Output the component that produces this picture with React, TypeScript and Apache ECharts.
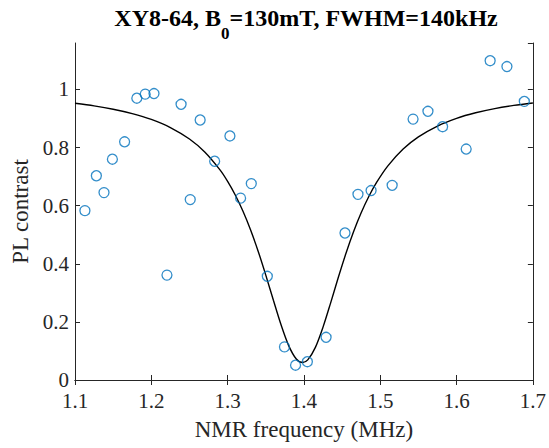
import React, { useEffect, useRef } from "react";
import * as echarts from "echarts";

const freqs = [1.113, 1.128, 1.138, 1.149, 1.165, 1.181, 1.192, 1.2035, 1.2205, 1.239, 1.251, 1.264, 1.283, 1.303, 1.317, 1.331, 1.352, 1.3745, 1.389, 1.4045, 1.429, 1.4538, 1.4708, 1.488, 1.5156, 1.543, 1.5625, 1.5817, 1.6126, 1.644, 1.666, 1.6888];
const contrast = [0.583, 0.703, 0.645, 0.76, 0.82, 0.97, 0.984, 0.986, 0.361, 0.949, 0.621, 0.895, 0.753, 0.84, 0.626, 0.676, 0.357, 0.114, 0.051, 0.063, 0.147, 0.506, 0.639, 0.652, 0.67, 0.898, 0.925, 0.872, 0.795, 1.099, 1.079, 0.959];

const fitFreq = [1.1, 1.125, 1.15, 1.175, 1.2, 1.225, 1.25, 1.27, 1.29, 1.3, 1.31, 1.32, 1.33, 1.34, 1.35, 1.36, 1.37, 1.38, 1.39, 1.398, 1.405, 1.415, 1.425, 1.435, 1.445, 1.455, 1.465, 1.475, 1.485, 1.495, 1.51, 1.53, 1.55, 1.575, 1.6, 1.625, 1.65, 1.675, 1.7];
const fitContrast = [0.9524, 0.9435, 0.9321, 0.9171, 0.897, 0.8691, 0.8295, 0.7848, 0.7231, 0.6835, 0.6367, 0.5816, 0.5172, 0.4433, 0.3611, 0.2743, 0.1899, 0.1184, 0.0721, 0.06, 0.0693, 0.1124, 0.182, 0.2656, 0.3526, 0.4354, 0.5102, 0.5755, 0.6316, 0.6792, 0.7371, 0.7949, 0.8368, 0.8742, 0.9006, 0.9198, 0.9342, 0.9451, 0.9536];

const xTicks = { min: 1.1, max: 1.7, interval: 0.1 };
const yTicks = { min: 0, max: 1.16, interval: 0.2 };

const FONT = "'Liberation Serif', 'Times New Roman', serif";
const AXIS_COLOR = "#262626";

export default function App() {
  const ref = useRef<HTMLDivElement>(null);
  useEffect(() => {
    if (!ref.current) return;
    const chart = echarts.init(ref.current, null, { renderer: "svg" });
    const axisLine = { show: true, lineStyle: { color: AXIS_COLOR, width: 1 } };
    const tick = { show: true, inside: true, length: 5, lineStyle: { color: AXIS_COLOR, width: 1 } };
    chart.setOption({
      animation: false,
      backgroundColor: "#ffffff",
      textStyle: { fontFamily: FONT },
      grid: { left: 75, right: 14.5, top: 43, bottom: 68, containLabel: false },
      graphic: [
        {
          type: "text",
          x: 306,
          y: 18,
          style: {
            text: "{b|XY8-64, B}{s|0}{b|=130mT, FWHM=140kHz}",
            textAlign: "center",
            textVerticalAlign: "middle",
            rich: {
              b: { fontFamily: FONT, fontWeight: "bold", fontSize: 24, fill: "#000" },
              s: { fontFamily: FONT, fontWeight: "bold", fontSize: 17, fill: "#000", padding: [30, 0, 0, 0] },
            },
          },
        },
      ],
      xAxis: [
        {
          type: "value",
          min: xTicks.min,
          max: xTicks.max,
          interval: xTicks.interval,
          position: "bottom",
          name: "NMR frequency (MHz)",
          nameLocation: "middle",
          nameGap: 38,
          nameTextStyle: { fontFamily: FONT, fontSize: 23, color: "#262626" },
          axisLine,
          axisTick: tick,
          splitLine: { show: false },
          axisLabel: {
            fontFamily: FONT,
            fontSize: 21,
            color: "#262626",
            margin: 10,
            formatter: (v: number) => v.toFixed(1),
          },
        },
        {
          type: "value",
          min: xTicks.min,
          max: xTicks.max,
          interval: xTicks.interval,
          position: "top",
          axisLine,
          axisTick: tick,
          splitLine: { show: false },
          axisLabel: { show: false },
        },
      ],
      yAxis: [
        {
          type: "value",
          min: yTicks.min,
          max: yTicks.max,
          interval: yTicks.interval,
          position: "left",
          name: "PL contrast",
          nameLocation: "middle",
          nameGap: 38,
          nameTextStyle: { fontFamily: FONT, fontSize: 23, color: "#262626" },
          axisLine,
          axisTick: tick,
          splitLine: { show: false },
          axisLabel: {
            fontFamily: FONT,
            fontSize: 21,
            color: "#262626",
            margin: 6,
            showMaxLabel: false,
            formatter: (v: number) => String(Math.round(v * 10) / 10),
          },
        },
        {
          type: "value",
          min: yTicks.min,
          max: yTicks.max,
          interval: yTicks.interval,
          position: "right",
          axisLine,
          axisTick: tick,
          splitLine: { show: false },
          axisLabel: { show: false },
        },
      ],
      series: [
        {
          type: "line",
          data: fitFreq.map((x, i) => [x, fitContrast[i]]),
          smooth: 0.3,
          showSymbol: false,
          symbol: "none",
          lineStyle: { color: "#000000", width: 1.4 },
          z: 2,
        },
        {
          type: "scatter",
          data: freqs.map((x, i) => [x, contrast[i]]),
          symbol: "circle",
          symbolSize: 10,
          itemStyle: { color: "rgba(0,0,0,0)", borderColor: "#0072BD", borderWidth: 1.3 },
          z: 3,
        },
      ],
    });
    return () => chart.dispose();
  }, []);
  return <div ref={ref} style={{ width: 549, height: 448, position: "absolute", left: 0, top: 0 }} />;
}
